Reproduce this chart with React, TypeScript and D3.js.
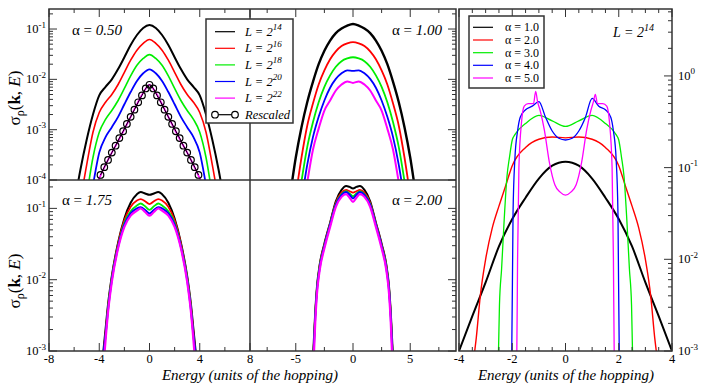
import React from "react";
import * as d3 from "d3";

const FONT = "'Liberation Serif','DejaVu Serif','Times New Roman',Times,serif";
const COLORS = ["#000000", "#ff0000", "#00ee00", "#0000ff", "#ff00ff"];
const L_LABELS = ["14", "16", "18", "20", "22"];
const ALPHA_LABELS = ["1.0", "2.0", "3.0", "4.0", "5.0"];

// ---------- Panel A: alpha = 0.50 ----------
const eA = [-6, -5.5, -5, -4.5, -4, -3.5, -3, -2.5, -2, -1.5, -1, -0.5, 0, 0.5, 1, 1.5, 2, 2.5, 3, 3.5, 4, 4.5, 5, 5.5, 6];
const a050_L14 = [3.2e-5, 1.6e-4, 6.3e-4, 2.0e-3, 4.8e-3, 7.1e-3, 1.0e-2, 1.6e-2, 2.75e-2, 4.8e-2, 7.6e-2, 0.105, 0.12, 0.105, 7.6e-2, 4.8e-2, 2.75e-2, 1.6e-2, 1.0e-2, 7.1e-3, 4.8e-3, 2.0e-3, 6.3e-4, 1.6e-4, 3.2e-5];
const a050_L16 = [1e-5, 4e-5, 2e-4, 8.9e-4, 2.2e-3, 3.5e-3, 5e-3, 7.9e-3, 1.38e-2, 2.4e-2, 3.8e-2, 5.2e-2, 6.2e-2, 5.2e-2, 3.8e-2, 2.4e-2, 1.38e-2, 7.9e-3, 5e-3, 3.5e-3, 2.2e-3, 8.9e-4, 2e-4, 4e-5, 1e-5];
const a050_L18 = [3e-6, 1e-5, 5e-5, 2.8e-4, 8.9e-4, 1.6e-3, 2.4e-3, 3.8e-3, 6.6e-3, 1.17e-2, 1.9e-2, 2.6e-2, 3.1e-2, 2.6e-2, 1.9e-2, 1.17e-2, 6.6e-3, 3.8e-3, 2.4e-3, 1.6e-3, 8.9e-4, 2.8e-4, 5e-5, 1e-5, 3e-6];
const a050_L20 = [1e-6, 3e-6, 1.6e-5, 7.9e-5, 3.5e-4, 7.1e-4, 1.12e-3, 1.8e-3, 3.2e-3, 5.6e-3, 9.3e-3, 1.32e-2, 1.58e-2, 1.32e-2, 9.3e-3, 5.6e-3, 3.2e-3, 1.8e-3, 1.12e-3, 7.1e-4, 3.5e-4, 7.9e-5, 1.6e-5, 3e-6, 1e-6];
const a050_L22 = [1e-6, 5e-6, 2e-5, 5e-5, 1.07e-4, 2e-4, 3.5e-4, 5.9e-4, 1.02e-3, 1.8e-3, 3.2e-3, 5.4e-3, 7.8e-3, 5.4e-3, 3.2e-3, 1.8e-3, 1.02e-3, 5.9e-4, 3.5e-4, 2e-4, 1.07e-4, 5e-5, 2e-5, 5e-6, 1e-6];
const eRescaled = [-3.9, -3.6, -3.3, -3.0, -2.7, -2.4, -2.1, -1.8, -1.5, -1.2, -0.9, -0.6, -0.3, 0, 0.3, 0.6, 0.9, 1.2, 1.5, 1.8, 2.1, 2.4, 2.7, 3.0, 3.3, 3.6, 3.9];
const a050_rescaled = [1.26e-4, 1.8e-4, 2.5e-4, 3.5e-4, 4.8e-4, 6.8e-4, 9.3e-4, 1.3e-3, 1.8e-3, 2.5e-3, 3.5e-3, 4.8e-3, 6.6e-3, 7.8e-3, 6.6e-3, 4.8e-3, 3.5e-3, 2.5e-3, 1.8e-3, 1.3e-3, 9.3e-4, 6.8e-4, 4.8e-4, 3.5e-4, 2.5e-4, 1.8e-4, 1.26e-4];

// ---------- Panel B: alpha = 1.00 ----------
const eB = [-6, -5.5, -5, -4.5, -4, -3.5, -3, -2.5, -2, -1.5, -1, -0.5, 0, 0.5, 1, 1.5, 2, 2.5, 3, 3.5, 4, 4.5, 5, 5.5, 6];
const a100_L14 = [1e-5, 5e-5, 2.8e-4, 1.12e-3, 3.5e-3, 8.9e-3, 2e-2, 3.7e-2, 5.9e-2, 8.3e-2, 0.102, 0.117, 0.126, 0.117, 0.102, 8.3e-2, 5.9e-2, 3.7e-2, 2e-2, 8.9e-3, 3.5e-3, 1.12e-3, 2.8e-4, 5e-5, 1e-5];
const a100_L16 = [2e-6, 1e-5, 5e-5, 2.8e-4, 1.2e-3, 3.3e-3, 7.9e-3, 1.5e-2, 2.5e-2, 3.6e-2, 4.6e-2, 5.2e-2, 5.5e-2, 5.2e-2, 4.6e-2, 3.6e-2, 2.5e-2, 1.5e-2, 7.9e-3, 3.3e-3, 1.2e-3, 2.8e-4, 5e-5, 1e-5, 2e-6];
const a100_L18 = [1e-6, 3e-6, 1.6e-5, 9.5e-5, 4.5e-4, 1.4e-3, 3.5e-3, 7.1e-3, 1.2e-2, 1.78e-2, 2.3e-2, 2.6e-2, 2.75e-2, 2.6e-2, 2.3e-2, 1.78e-2, 1.2e-2, 7.1e-3, 3.5e-3, 1.4e-3, 4.5e-4, 9.5e-5, 1.6e-5, 3e-6, 1e-6];
const a100_L20 = [1e-6, 2e-6, 1e-5, 4e-5, 2e-4, 7.1e-4, 1.8e-3, 3.8e-3, 6.8e-3, 1.02e-2, 1.32e-2, 1.51e-2, 1.48e-2, 1.51e-2, 1.32e-2, 1.02e-2, 6.8e-3, 3.8e-3, 1.8e-3, 7.1e-4, 2e-4, 4e-5, 1e-5, 2e-6, 1e-6];
const a100_L22 = [1e-6, 1e-6, 3e-6, 1.6e-5, 8.9e-5, 4e-4, 1.05e-3, 2.4e-3, 3.8e-3, 6e-3, 7.9e-3, 9.1e-3, 8.5e-3, 9.1e-3, 7.9e-3, 6e-3, 3.8e-3, 2.4e-3, 1.05e-3, 4e-4, 8.9e-5, 1.6e-5, 3e-6, 1e-6, 1e-6];

// ---------- Panel C: alpha = 1.75 ----------
const eC = [-4, -3.7, -3.5, -3.3, -3, -2.5, -2, -1.5, -1, -0.7, -0.35, 0, 0.35, 0.7, 1, 1.5, 2, 2.5, 3, 3.3, 3.5, 3.7, 4];
const a175_L14 = [2.5e-4, 8.9e-4, 2e-3, 4.5e-3, 1.12e-2, 3.3e-2, 7.2e-2, 0.12, 0.158, 0.17, 0.162, 0.155, 0.162, 0.17, 0.158, 0.12, 7.2e-2, 3.3e-2, 1.12e-2, 4.5e-3, 2e-3, 8.9e-4, 2.5e-4];
const a175_L16 = [2e-4, 7.9e-4, 1.8e-3, 4.2e-3, 1.07e-2, 3.2e-2, 6.8e-2, 0.105, 0.129, 0.135, 0.126, 0.115, 0.126, 0.135, 0.129, 0.105, 6.8e-2, 3.2e-2, 1.07e-2, 4.2e-3, 1.8e-3, 7.9e-4, 2e-4];
const a175_L18 = [1.6e-4, 7.1e-4, 1.6e-3, 4e-3, 1.05e-2, 3.0e-2, 6.3e-2, 9.1e-2, 0.11, 0.117, 0.107, 9.5e-2, 0.107, 0.117, 0.11, 9.1e-2, 6.3e-2, 3.0e-2, 1.05e-2, 4e-3, 1.6e-3, 7.1e-4, 1.6e-4];
const a175_L20 = [1.6e-4, 7.9e-4, 1.66e-3, 3.8e-3, 1e-2, 2.9e-2, 5.9e-2, 8.5e-2, 0.1, 0.104, 9.5e-2, 8.5e-2, 9.5e-2, 0.104, 0.1, 8.5e-2, 5.9e-2, 2.9e-2, 1e-2, 3.8e-3, 1.66e-3, 7.9e-4, 1.6e-4];
const a175_L22 = [1e-4, 5e-4, 1.4e-3, 3.5e-3, 9.3e-3, 2.75e-2, 5.5e-2, 7.9e-2, 9.3e-2, 0.1, 8.9e-2, 7.9e-2, 8.9e-2, 0.1, 9.3e-2, 7.9e-2, 5.5e-2, 2.75e-2, 9.3e-3, 3.5e-3, 1.4e-3, 5e-4, 1e-4];

// ---------- Panel D: alpha = 2.00 ----------
const eD = [-4, -3.6, -3.45, -3.3, -3.15, -2.9, -2.5, -2, -1.5, -1, -0.6, -0.3, 0, 0.3, 0.6, 1, 1.5, 2, 2.5, 2.9, 3.15, 3.3, 3.45, 3.6, 4];
const a200_L14 = [3.2e-5, 3.2e-4, 1.12e-3, 3.5e-3, 7.9e-3, 1.66e-2, 3.2e-2, 6.3e-2, 0.126, 0.182, 0.206, 0.2, 0.19, 0.2, 0.206, 0.182, 0.126, 6.3e-2, 3.2e-2, 1.66e-2, 7.9e-3, 3.5e-3, 1.12e-3, 3.2e-4, 3.2e-5];
const a200_L16 = [3.2e-5, 2.5e-4, 1e-3, 3.3e-3, 7.6e-3, 1.62e-2, 3.1e-2, 6.2e-2, 0.12, 0.166, 0.182, 0.174, 0.166, 0.174, 0.182, 0.166, 0.12, 6.2e-2, 3.1e-2, 1.62e-2, 7.6e-3, 3.3e-3, 1e-3, 2.5e-4, 3.2e-5];
const a200_L18 = [3.2e-5, 2.5e-4, 9.5e-4, 3.2e-3, 7.4e-3, 1.58e-2, 3e-2, 6e-2, 0.115, 0.158, 0.174, 0.162, 0.148, 0.162, 0.174, 0.158, 0.115, 6e-2, 3e-2, 1.58e-2, 7.4e-3, 3.2e-3, 9.5e-4, 2.5e-4, 3.2e-5];
const a200_L20 = [3.2e-5, 2.5e-4, 8.9e-4, 3e-3, 7.1e-3, 1.5e-2, 2.95e-2, 5.9e-2, 0.112, 0.155, 0.17, 0.155, 0.138, 0.155, 0.17, 0.155, 0.112, 5.9e-2, 2.95e-2, 1.5e-2, 7.1e-3, 3e-3, 8.9e-4, 2.5e-4, 3.2e-5];
const a200_L22 = [2e-5, 1.6e-4, 6.3e-4, 2.5e-3, 6.3e-3, 1.4e-2, 2.75e-2, 5.5e-2, 0.105, 0.145, 0.158, 0.141, 0.123, 0.141, 0.158, 0.145, 0.105, 5.5e-2, 2.75e-2, 1.4e-2, 6.3e-3, 2.5e-3, 6.3e-4, 1.6e-4, 2e-5];

// ---------- Panel E: L = 2^14, several alpha ----------
const eE_a1 = [-4, -3.5, -3, -2.5, -2, -1.5, -1, -0.5, 0, 0.5, 1, 1.5, 2, 2.5, 3, 3.5, 4];
const L14_a1 = [1e-3, 2.4e-3, 5.6e-3, 1.38e-2, 2.75e-2, 4.7e-2, 7.6e-2, 0.105, 0.116, 0.105, 7.6e-2, 4.7e-2, 2.75e-2, 1.38e-2, 5.6e-3, 2.4e-3, 1e-3];
const eE_a2 = [-3.6, -3.45, -3.35, -3.2, -3, -2.75, -2.5, -2.25, -2, -1.5, -1, -0.5, 0, 0.5, 1, 1.5, 2, 2.25, 2.5, 2.75, 3, 3.2, 3.35, 3.45, 3.6];
const L14_a2 = [2.5e-4, 7.9e-4, 1.4e-3, 4e-3, 1e-2, 2.2e-2, 3.8e-2, 6.3e-2, 0.105, 0.166, 0.204, 0.216, 0.211, 0.216, 0.204, 0.166, 0.105, 6.3e-2, 3.8e-2, 2.2e-2, 1e-2, 4e-3, 1.4e-3, 7.9e-4, 2.5e-4];
const eE_a3 = [-2.6, -2.52, -2.48, -2.4, -2.3, -2.2, -2.1, -2, -1.9, -1.5, -1, -0.5, 0, 0.5, 1, 1.5, 1.9, 2, 2.1, 2.2, 2.3, 2.4, 2.48, 2.52, 2.6];
const L14_a3 = [3.2e-4, 8.9e-4, 3.2e-3, 7.9e-3, 2.8e-2, 7.9e-2, 0.132, 0.2, 0.229, 0.302, 0.372, 0.324, 0.282, 0.324, 0.372, 0.302, 0.229, 0.2, 0.132, 7.9e-2, 2.8e-2, 7.9e-3, 3.2e-3, 8.9e-4, 3.2e-4];
const eE_a4 = [-2.1, -2.02, -1.97, -1.9, -1.8, -1.7, -1.5, -1.25, -1, -0.75, -0.5, -0.25, 0, 0.25, 0.5, 0.75, 1, 1.25, 1.5, 1.7, 1.8, 1.9, 1.97, 2.02, 2.1];
const L14_a4 = [3.2e-4, 8.9e-4, 3.2e-2, 0.126, 0.251, 0.355, 0.427, 0.468, 0.525, 0.355, 0.251, 0.209, 0.2, 0.209, 0.251, 0.355, 0.569, 0.468, 0.427, 0.355, 0.251, 0.126, 3.2e-2, 8.9e-4, 3.2e-4];
const eE_a5 = [-1.9, -1.83, -1.8, -1.75, -1.65, -1.55, -1.4, -1.2, -1.12, -1.05, -0.95, -0.8, -0.6, -0.4, -0.2, 0, 0.2, 0.4, 0.6, 0.8, 0.95, 1.05, 1.12, 1.2, 1.4, 1.55, 1.65, 1.75, 1.8, 1.83, 1.9];
const L14_a5 = [3.2e-4, 8.9e-4, 1e-2, 0.1, 0.316, 0.468, 0.5, 0.5, 0.68, 0.525, 0.417, 0.263, 0.112, 6.5e-2, 5.4e-2, 5e-2, 5.4e-2, 6.5e-2, 0.112, 0.263, 0.417, 0.525, 0.63, 0.5, 0.5, 0.468, 0.316, 0.1, 1e-2, 8.9e-4, 3.2e-4];

// ---------- Tick values ----------
const xMajorAC = [-8, -4, 0, 4, 8];
const xMinorAC = [-6, -2, 2, 6];
const xMajorBD = [-5, 0, 5];
const xMinorBD = [-7.5, -2.5, 2.5, 7.5];
const xMajorE = [-4, -2, 0, 2, 4];
const xMinorE = [-3.5, -3, -2.5, -1.5, -1, -0.5, 0.5, 1, 1.5, 2.5, 3, 3.5];
const yMajorAB = [1e-4, 1e-3, 1e-2, 1e-1];
const yMajorCD = [1e-3, 1e-2, 1e-1];
const yMajorE = [1e-3, 1e-2, 1e-1, 1];

type P = { x0: number; x1: number; y0: number; y1: number; xd: number[]; yd: number[] };
const pA: P = { x0: 49, x1: 250, y0: 9, y1: 180, xd: [-8, 8], yd: [1e-4, 0.25] };
const pB: P = { x0: 250, x1: 456, y0: 9, y1: 180, xd: [-9, 9], yd: [1e-4, 0.25] };
const pC: P = { x0: 49, x1: 250, y0: 180, y1: 351, xd: [-8, 8], yd: [1e-3, 0.25] };
const pD: P = { x0: 250, x1: 456, y0: 180, y1: 351, xd: [-9, 9], yd: [1e-3, 0.25] };
const pE: P = { x0: 459, x1: 672, y0: 9, y1: 351, xd: [-4, 4], yd: [1e-3, 5.37] };

const scales = (p: P) => ({
  xs: d3.scaleLinear().domain(p.xd).range([p.x0, p.x1]),
  ys: d3.scaleLog().domain(p.yd).range([p.y1, p.y0]),
});

const isMajor = (t: number) => Math.abs(Math.log10(t) - Math.round(Math.log10(t))) < 1e-6;
const FRAME = "#333";
const MAJ = 8;
const MIN = 4;

function linePath(xs: any, ys: any, e: number[], v: number[]) {
  return d3
    .line<number>()
    .x((_d, i) => xs(e[i]))
    .y((d) => ys(d))
    .curve(d3.curveMonotoneX)(v) as string;
}

function Curves({ p, id, sets, widths }: { p: P; id: string; sets: [number[], number[]][]; widths: number[] }) {
  const { xs, ys } = scales(p);
  return (
    <g clipPath={`url(#${id})`}>
      {sets.map(([e, v], i) => (
        <path key={i} d={linePath(xs, ys, e, v)} fill="none" stroke={COLORS[i]} strokeWidth={widths[i]} strokeLinejoin="round" />
      ))}
    </g>
  );
}

function XTicks({ p, major, minor, side }: { p: P; major: number[]; minor: number[]; side: "top" | "bottom" }) {
  const { xs } = scales(p);
  const y = side === "top" ? p.y0 : p.y1;
  const dir = side === "top" ? 1 : -1;
  return (
    <g stroke={FRAME} strokeWidth={1}>
      {major.map((t) => (
        <line key={"M" + t} x1={xs(t)} x2={xs(t)} y1={y} y2={y + dir * MAJ} />
      ))}
      {minor.map((t) => (
        <line key={"m" + t} x1={xs(t)} x2={xs(t)} y1={y} y2={y + dir * MIN} />
      ))}
    </g>
  );
}

function YTicks({ p, side }: { p: P; side: "left" | "right" }) {
  const { ys } = scales(p);
  const x = side === "left" ? p.x0 : p.x1;
  const dir = side === "left" ? 1 : -1;
  return (
    <g stroke={FRAME} strokeWidth={1}>
      {ys.ticks().map((t: number) => (
        <line key={t} x1={x} x2={x + dir * (isMajor(t) ? MAJ : MIN)} y1={ys(t)} y2={ys(t)} />
      ))}
    </g>
  );
}

function PowLabel({ x, y, t, anchor }: { x: number; y: number; t: number; anchor: "start" | "end" }) {
  const ex = Math.round(Math.log10(t));
  return (
    <text x={x} y={y + 4} textAnchor={anchor} fontSize={12.5}>
      10
      <tspan dy={-5.5} fontSize={9}>
        {String(ex)}
      </tspan>
    </text>
  );
}

function XLabels({ p, ticks }: { p: P; ticks: number[] }) {
  const { xs } = scales(p);
  return (
    <g>
      {ticks.map((t) => (
        <text key={t} x={xs(t)} y={363} textAnchor="middle" fontSize={12.5}>
          {String(t)}
        </text>
      ))}
    </g>
  );
}

function AlphaLabel({ x, y, val, anchor }: { x: number; y: number; val: string; anchor: "start" | "end" }) {
  return (
    <text x={x} y={y} textAnchor={anchor} fontSize={15}>
      α = <tspan fontStyle="italic">{val}</tspan>
    </text>
  );
}

function YTitle({ cy }: { cy: number }) {
  return (
    <text transform={`translate(20,${cy}) rotate(-90)`} textAnchor="middle" fontSize={17}>
      σ
      <tspan dy={4} fontSize={12}>
        ρ
      </tspan>
      <tspan dy={-4}>(</tspan>
      <tspan fontWeight="bold">k</tspan>
      <tspan>, </tspan>
      <tspan fontStyle="italic">E</tspan>
      <tspan>)</tspan>
    </text>
  );
}

export default function App() {
  const sA = scales(pA);
  const panels: [string, P][] = [
    ["clipA", pA],
    ["clipB", pB],
    ["clipC", pC],
    ["clipD", pD],
    ["clipE", pE],
  ];
  const legendRowsA = [31.7, 48.3, 64.9, 81.5, 98.1, 114.7];
  const legendRowsE = [27.3, 40, 52.7, 65.3, 78];
  return (
    <svg
      width={708}
      height={387}
      fontFamily={FONT}
      style={{ position: "absolute", left: 0, top: 0, background: "#fff", fontFamily: FONT }}
    >
      <defs>
        {panels.map(([id, p]) => (
          <clipPath id={id} key={id}>
            <rect x={p.x0} y={p.y0} width={p.x1 - p.x0} height={p.y1 - p.y0} />
          </clipPath>
        ))}
      </defs>
      <rect x={0} y={0} width={708} height={387} fill="#fff" />

      {/* curves */}
      <Curves p={pA} id="clipA" sets={[[eA, a050_L14], [eA, a050_L16], [eA, a050_L18], [eA, a050_L20], [eA, a050_L22]]} widths={[2, 1.6, 1.6, 1.8, 1.8]} />
      <g clipPath="url(#clipA)">
        <path d={linePath(sA.xs, sA.ys, eRescaled, a050_rescaled)} fill="none" stroke="#000" strokeWidth={1} />
        {eRescaled.map((e, i) => (
          <circle key={i} cx={sA.xs(e)} cy={sA.ys(a050_rescaled[i])} r={3.3} fill="none" stroke="#000" strokeWidth={1.2} />
        ))}
      </g>
      <Curves p={pB} id="clipB" sets={[[eB, a100_L14], [eB, a100_L16], [eB, a100_L18], [eB, a100_L20], [eB, a100_L22]]} widths={[2.4, 1.8, 1.8, 1.8, 2]} />
      <Curves p={pC} id="clipC" sets={[[eC, a175_L14], [eC, a175_L16], [eC, a175_L18], [eC, a175_L20], [eC, a175_L22]]} widths={[2, 1.8, 1.8, 2, 2.2]} />
      <Curves p={pD} id="clipD" sets={[[eD, a200_L14], [eD, a200_L16], [eD, a200_L18], [eD, a200_L20], [eD, a200_L22]]} widths={[2, 1.8, 1.8, 2, 2.2]} />
      <Curves p={pE} id="clipE" sets={[[eE_a1, L14_a1], [eE_a2, L14_a2], [eE_a3, L14_a3], [eE_a4, L14_a4], [eE_a5, L14_a5]]} widths={[2, 1.4, 1.3, 1.3, 1.3]} />

      {/* frames */}
      <rect x={pA.x0} y={pA.y0} width={pB.x1 - pA.x0} height={pC.y1 - pA.y0} fill="none" stroke={FRAME} strokeWidth={1.5} />
      <line x1={pA.x1} x2={pA.x1} y1={pA.y0} y2={pC.y1} stroke={FRAME} strokeWidth={1.5} />
      <line x1={pA.x0} x2={pB.x1} y1={pA.y1} y2={pA.y1} stroke={FRAME} strokeWidth={1.5} />
      <rect x={pE.x0} y={pE.y0} width={pE.x1 - pE.x0} height={pE.y1 - pE.y0} fill="none" stroke={FRAME} strokeWidth={1.5} />

      {/* ticks */}
      <XTicks p={pA} major={xMajorAC} minor={xMinorAC} side="top" />
      <XTicks p={pC} major={xMajorAC} minor={xMinorAC} side="bottom" />
      <XTicks p={pB} major={xMajorBD} minor={xMinorBD} side="top" />
      <XTicks p={pD} major={xMajorBD} minor={xMinorBD} side="bottom" />
      <XTicks p={pE} major={xMajorE} minor={xMinorE} side="top" />
      <XTicks p={pE} major={xMajorE} minor={xMinorE} side="bottom" />
      <YTicks p={pA} side="left" />
      <YTicks p={pC} side="left" />
      <YTicks p={pB} side="right" />
      <YTicks p={pD} side="right" />
      <YTicks p={pE} side="right" />

      {/* tick labels */}
      {yMajorAB.map((t) => (
        <PowLabel key={"a" + t} x={46} y={scales(pA).ys(t)} t={t} anchor="end" />
      ))}
      {yMajorCD.map((t) => (
        <PowLabel key={"c" + t} x={46} y={scales(pC).ys(t)} t={t} anchor="end" />
      ))}
      {yMajorE.map((t) => (
        <PowLabel key={"e" + t} x={678} y={scales(pE).ys(t)} t={t} anchor="start" />
      ))}
      <XLabels p={pC} ticks={xMajorAC} />
      <XLabels p={pD} ticks={xMajorBD} />
      <XLabels p={pE} ticks={xMajorE} />

      {/* axis titles */}
      <YTitle cy={98} />
      <YTitle cy={281} />
      <text x={250} y={380} textAnchor="middle" fontSize={15} fontStyle="italic">
        Energy (units of the hopping)
      </text>
      <text x={566} y={380} textAnchor="middle" fontSize={15} fontStyle="italic">
        Energy (units of the hopping)
      </text>

      {/* panel labels */}
      <AlphaLabel x={72} y={35} val="0.50" anchor="start" />
      <AlphaLabel x={442} y={35} val="1.00" anchor="end" />
      <AlphaLabel x={62} y={205} val="1.75" anchor="start" />
      <AlphaLabel x={442} y={205} val="2.00" anchor="end" />
      <text x={613} y={37} fontSize={14} fontStyle="italic">
        L = 2
        <tspan dy={-6} fontSize={10}>
          14
        </tspan>
      </text>

      {/* legend A/B */}
      <rect x={206} y={19} width={87} height={104} fill="#fff" stroke={FRAME} strokeWidth={1.5} />
      {L_LABELS.map((l, i) => (
        <g key={l}>
          <line x1={215} x2={235} y1={legendRowsA[i]} y2={legendRowsA[i]} stroke={COLORS[i]} strokeWidth={1.2} />
          <text x={245} y={legendRowsA[i] + 4} fontSize={12.5} fontStyle="italic">
            L = 2
            <tspan dy={-5.5} fontSize={9}>
              {l}
            </tspan>
          </text>
        </g>
      ))}
      <g>
        <line x1={215} x2={235} y1={legendRowsA[5]} y2={legendRowsA[5]} stroke="#000" strokeWidth={1.2} />
        <circle cx={215} cy={legendRowsA[5]} r={3.3} fill="#fff" stroke="#000" strokeWidth={1.2} />
        <circle cx={235} cy={legendRowsA[5]} r={3.3} fill="#fff" stroke="#000" strokeWidth={1.2} />
        <text x={245} y={legendRowsA[5] + 4} fontSize={12.5} fontStyle="italic">
          Rescaled
        </text>
      </g>

      {/* legend E */}
      <rect x={469} y={16} width={75} height={72} fill="#fff" stroke={FRAME} strokeWidth={1.5} />
      {ALPHA_LABELS.map((a, i) => (
        <g key={a}>
          <line x1={473} x2={493} y1={legendRowsE[i]} y2={legendRowsE[i]} stroke={COLORS[i]} strokeWidth={1.2} />
          <text x={505} y={legendRowsE[i] + 4} fontSize={12}>
            α = {a}
          </text>
        </g>
      ))}
    </svg>
  );
}
